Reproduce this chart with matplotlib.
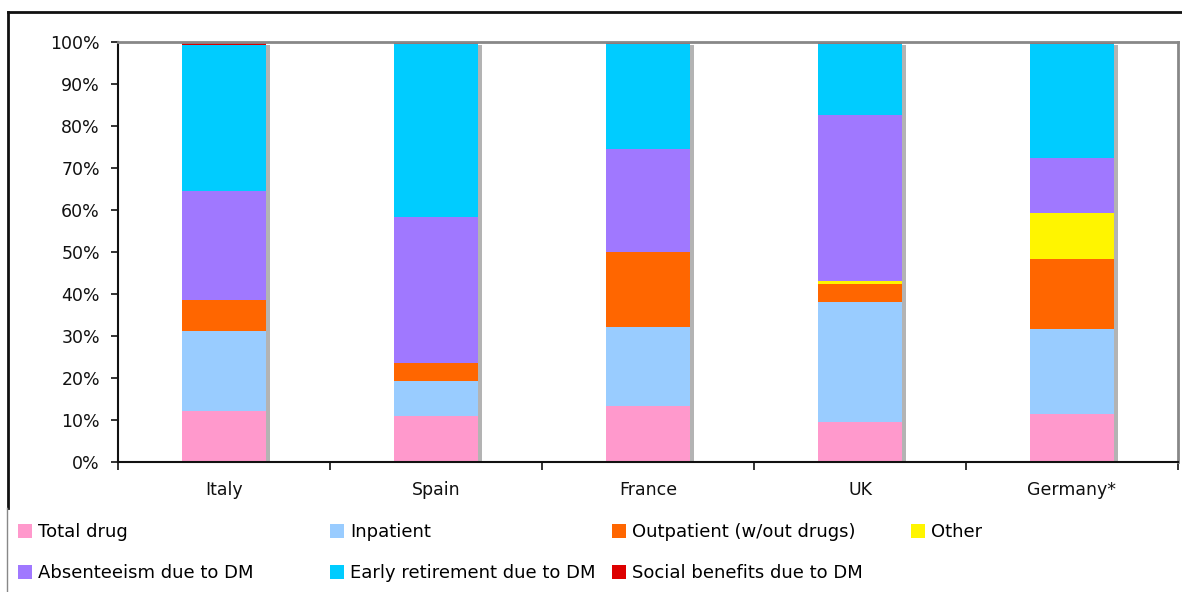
import matplotlib.pyplot as plt
import numpy as np
from matplotlib.lines import Line2D
from matplotlib.ticker import FixedLocator, PercentFormatter

countries = ["Italy", "Spain", "France", "UK", "Germany*"]

# share of total cost (%), bottom to top
total_drug = [12.1, 11.0, 13.4, 9.6, 11.5]
inpatient = [19.1, 8.4, 18.7, 28.6, 20.2]
outpatient = [7.4, 4.2, 18.0, 4.3, 16.7]
other = [0.0, 0.0, 0.0, 0.6, 11.0]
absenteeism = [25.9, 34.7, 24.4, 39.5, 13.1]
early_retirement = [34.8, 41.2, 25.0, 17.0, 27.1]
social_benefits = [0.7, 0.5, 0.5, 0.4, 0.4]

series = [
    ("Total drug", total_drug, "#FF99CC"),
    ("Inpatient", inpatient, "#99CCFF"),
    ("Outpatient (w/out drugs)", outpatient, "#FF6600"),
    ("Other", other, "#FFF500"),
    ("Absenteeism due to DM", absenteeism, "#A078FF"),
    ("Early retirement due to DM", early_retirement, "#00CCFF"),
    ("Social benefits due to DM", social_benefits, "#DD0000"),
]


def main() -> None:
    plt.rcParams["font.family"] = ["DejaVu Sans"]
    W, H = 1182, 592
    fig = plt.figure(figsize=(W / 100, H / 100), dpi=100)
    ax = fig.add_axes([118 / W, (H - 462) / H, 1060 / W, 420 / H])

    x = np.arange(len(countries))
    width = 0.4
    shift = 3.5 / 212

    # grey drop shadow behind each bar
    ax.bar(x + shift, np.full(len(x), 99.3), width=width, color="#B3B3B3",
           linewidth=0, zorder=1)

    bottom = np.zeros(len(x))
    handles = []
    for label, vals, color in series:
        vals = np.array(vals)
        b = ax.bar(x, vals, width=width, bottom=bottom, color=color,
                   linewidth=0, zorder=2, label=label)
        handles.append(b)
        bottom += vals

    ax.set_xlim(-0.5, len(x) - 0.5)
    ax.set_ylim(0, 100)
    ax.set_yticks(np.arange(0, 101, 10))
    ax.yaxis.set_major_formatter(PercentFormatter(decimals=0))
    ax.set_xticks(x)
    ax.set_xticklabels(countries)
    ax.xaxis.set_minor_locator(FixedLocator(np.arange(-0.5, len(x), 1.0)))

    ax.tick_params(axis="y", direction="out", length=5, width=1.2,
                   pad=8, labelsize=12.5, colors="#111111")
    ax.tick_params(axis="x", which="major", length=0, pad=14,
                   labelsize=12.5, colors="#111111")
    ax.tick_params(axis="x", which="minor", direction="out", length=6,
                   width=1.2, color="#111111")

    for side in ("left", "bottom"):
        ax.spines[side].set_color("#111111")
        ax.spines[side].set_linewidth(1.5)
    for side in ("top", "right"):
        ax.spines[side].set_color("#888888")
        ax.spines[side].set_linewidth(2)

    # outer chart frame, cut off at the right and bottom
    fig.add_artist(Line2D([8 / W, 1], [1 - 12 / H, 1 - 12 / H],
                          color="#111111", linewidth=2))
    fig.add_artist(Line2D([8 / W, 8 / W], [1 - 12 / H, 1 - 508 / H],
                          color="#111111", linewidth=2))
    fig.add_artist(Line2D([7 / W, 7 / W], [1 - 508 / H, 0],
                          color="#888888", linewidth=1))

    # legend: four columns, filled row by row
    col_left = [18, 330, 612, 911]
    for c, left in enumerate(col_left):
        col_handles = handles[c::4]
        fig.legend(handles=col_handles, ncol=1, loc="upper left",
                   bbox_to_anchor=(left / W, 1 - 523 / H), frameon=False,
                   fontsize=13, handlelength=0.78, handleheight=0.78,
                   handletextpad=0.35, labelspacing=1.3, borderaxespad=0,
                   borderpad=0)

    fig.savefig("out.png", dpi=100)
    plt.close(fig)


if __name__ == "__main__":
    main()
